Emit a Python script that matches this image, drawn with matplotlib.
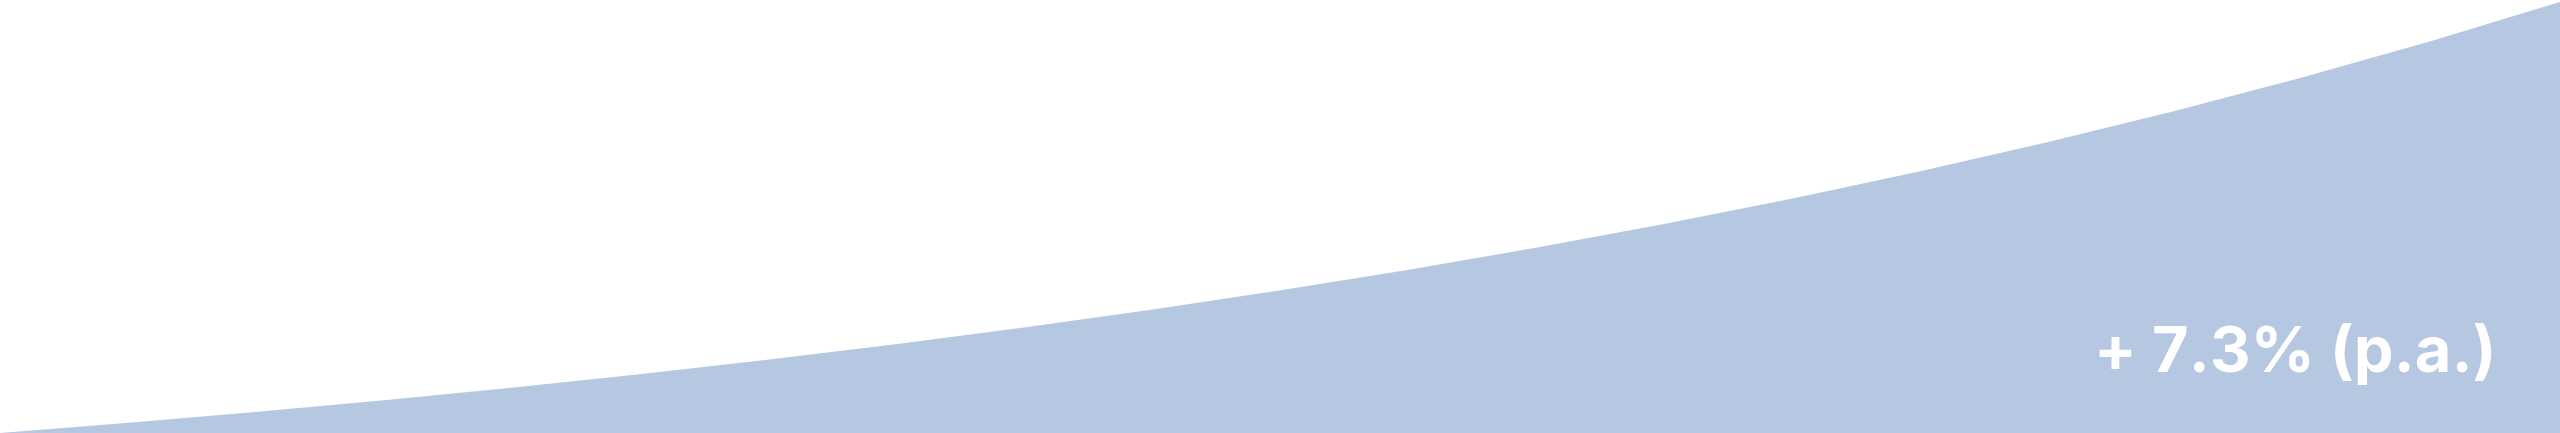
import numpy as np
import matplotlib
matplotlib.use("Agg")
import matplotlib.pyplot as plt

# ==========================================================
# Data: index value per year
# ==========================================================

YEARS = list(range(0, 21))
VALUES = [100.0, 107.3, 115.1, 123.5, 132.5, 142.2, 152.6, 163.7, 175.7,
          188.5, 202.3, 217.0, 232.9, 249.9, 268.1, 287.7, 308.7, 331.2,
          355.4, 381.3, 409.2]
LABEL = "+ 7.3% (p.a.)"

FILL = "#b6c7e1"

# ==========================================================
# Plot
# ==========================================================

plt.rcParams["font.family"] = ["Inter", "DejaVu Sans"]

fig = plt.figure(figsize=(25.6, 4.33), dpi=100)
ax = fig.add_axes([0, 0, 1, 1])

ax.fill_between(YEARS, VALUES, VALUES[0], color=FILL, linewidth=0)

ax.set_xlim(YEARS[0], YEARS[-1])
ax.set_ylim(VALUES[0], 410.6)
ax.axis("off")

ax.text(0.818, 0.141, LABEL, transform=ax.transAxes,
        color="white", fontsize=45.5, fontweight="bold",
        ha="left", va="baseline")

fig.savefig("out.png", dpi=100, facecolor="white")
